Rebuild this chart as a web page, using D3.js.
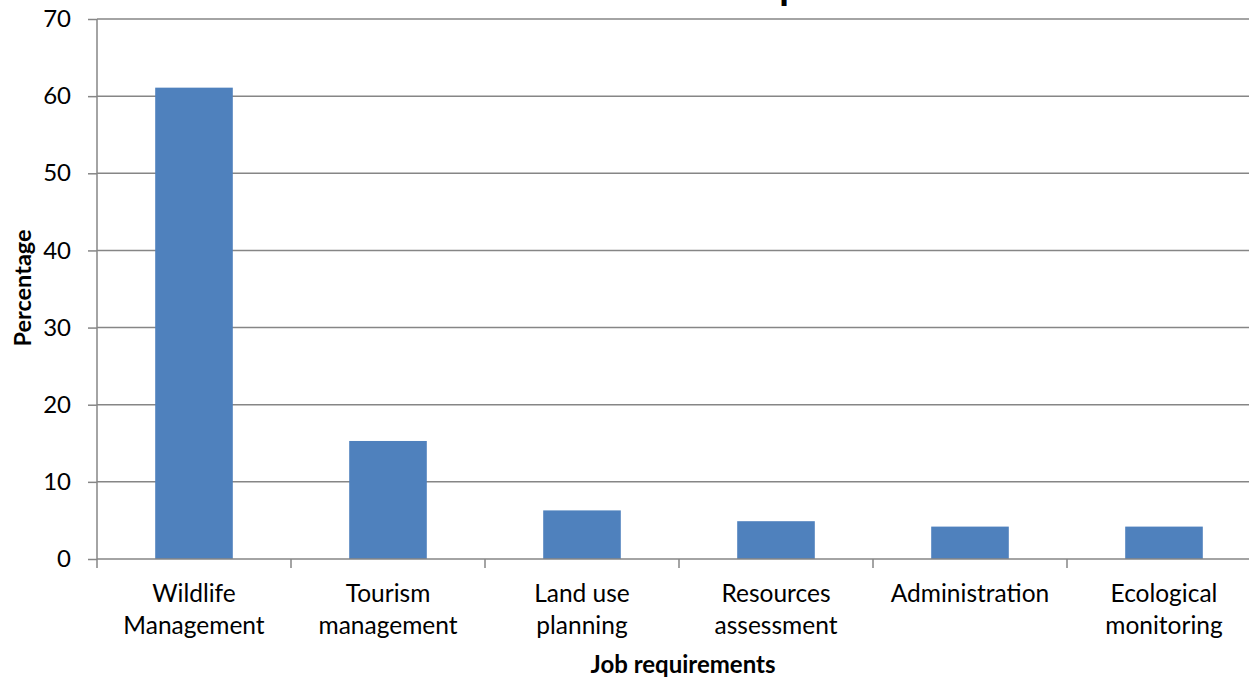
<!DOCTYPE html>
<html>
<head>
<meta charset="utf-8">
<script src="https://cdn.jsdelivr.net/npm/d3@7"></script>
<style>
  body { margin: 0; background: #fff; }
  svg { display: block; font-family: Lato, "Open Sans", sans-serif; }
</style>
</head>
<body>
<div id="chart"></div>
<script>
// data
var categories = ["Wildlife Management", "Tourism management", "Land use planning", "Resources assessment", "Administration", "Ecological monitoring"]
var labelLines = [["Wildlife", "Management"], ["Tourism", "management"], ["Land use", "planning"], ["Resources", "assessment"], ["Administration"], ["Ecological", "monitoring"]]
var values = [61.1, 15.3, 6.3, 4.9, 4.2, 4.2]
var yTicks = [0, 10, 20, 30, 40, 50, 60, 70]

var width = 1249, height = 679
var plotLeft = 97, plotRight = 1261, plotTop = 19, plotBottom = 559
var gridColor = "#868686"

var svg = d3.select("#chart").append("svg")
    .attr("width", width)
    .attr("height", height)

var x = d3.scaleBand().domain(categories).range([plotLeft, plotRight])
var y = d3.scaleLinear().domain([0, 70]).range([plotBottom, plotTop])

// gridlines
svg.append("g").selectAll("line")
    .data(yTicks.filter(d => d > 0))
    .enter().append("line")
    .attr("x1", plotLeft).attr("x2", plotRight)
    .attr("y1", d => y(d)).attr("y2", d => y(d))
    .attr("stroke", gridColor).attr("stroke-width", 1.5)

// bars
var bw = x.bandwidth()
svg.append("g").selectAll("rect")
    .data(values)
    .enter().append("rect")
    .attr("x", (d, i) => x(categories[i]) + bw * 0.3)
    .attr("width", bw * 0.4)
    .attr("y", d => y(d))
    .attr("height", d => y(0) - y(d))
    .attr("fill", "#4F81BD")

// y axis
var yAxis = svg.append("g")
    .attr("transform", `translate(${plotLeft},0)`)
    .call(d3.axisLeft(y).tickValues(yTicks).tickSize(9).tickPadding(17))
yAxis.select(".domain").attr("stroke", gridColor).attr("stroke-width", 1.5).attr("d", `M0,${plotTop}V${plotBottom}`)
yAxis.selectAll(".tick line").attr("stroke", gridColor).attr("stroke-width", 1.5)
yAxis.selectAll(".tick text").attr("font-size", 24).attr("fill", "#000").attr("font-family", "Lato, sans-serif")

// x axis
var xAxis = svg.append("g")
    .attr("transform", `translate(0,${plotBottom})`)
xAxis.append("line")
    .attr("x1", plotLeft).attr("x2", plotRight)
    .attr("stroke", gridColor).attr("stroke-width", 1.5)
xAxis.selectAll(".xt")
    .data(categories.concat(["end"]))
    .enter().append("line")
    .attr("class", "xt")
    .attr("x1", (d, i) => plotLeft + i * bw).attr("x2", (d, i) => plotLeft + i * bw)
    .attr("y1", 0).attr("y2", 9)
    .attr("stroke", gridColor).attr("stroke-width", 1.5)

var labels = svg.append("g").selectAll("text")
    .data(labelLines)
    .enter().append("text")
    .attr("text-anchor", "middle")
    .attr("font-size", 24.5)
    .attr("fill", "#000")
labels.each(function(lines, i) {
    var t = d3.select(this)
    lines.forEach(function(s, j) {
        t.append("tspan")
            .attr("x", x(categories[i]) + bw / 2)
            .attr("y", 602 + j * 32)
            .text(s)
    })
})

// axis titles
svg.append("text")
    .attr("x", 683).attr("y", 673)
    .attr("text-anchor", "middle")
    .attr("font-size", 24).attr("font-weight", "bold")
    .text("Job requirements")

svg.append("text")
    .attr("transform", "translate(31,288) rotate(-90)")
    .attr("text-anchor", "middle")
    .attr("font-size", 23.5).attr("font-weight", "bold")
    .text("Percentage")

// chart title, cut off at the top of the picture
var title = svg.append("text")
    .attr("x", 0).attr("y", -1)
    .attr("font-size", 40).attr("font-weight", "bold")
    .text("Job requirements")
var qPos = title.node().getStartPositionOfChar(7).x
title.attr("x", 780 - qPos + 9)
</script>
</body>
</html>
